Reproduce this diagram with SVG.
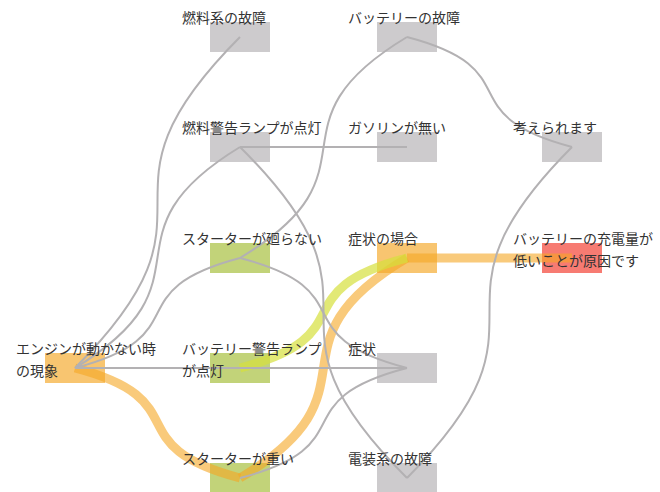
<svg xmlns="http://www.w3.org/2000/svg" width="660" height="492" viewBox="0 0 660 492">
<style>
.bg{fill:#ffffff}
.gray{fill:#cdcbcd}
.orange{fill:#f5a623;fill-opacity:0.65}
.green{fill:#9ab520;fill-opacity:0.6}
.red{fill:#f44336;fill-opacity:0.7}
.e{fill:none;stroke:#b3b1b3;stroke-width:2}
.hl-o{fill:none;stroke:#f5a623;stroke-opacity:0.6;stroke-width:9}
.hl-y{fill:none;stroke:#d6df3c;stroke-opacity:0.7;stroke-width:9}
text{font-family:"Noto Sans CJK JP","Noto Sans",sans-serif;font-size:14px;fill:#333333}
</style>
<rect class="bg" x="0" y="0" width="660" height="492"/>
<g id="nodes-shapes">
<rect id="r-engine" class="orange" x="45" y="353" width="60" height="30"/>
<rect id="r-fuelsys" class="gray" x="210" y="22" width="60" height="30"/>
<rect id="r-fuellamp" class="gray" x="210" y="132" width="60" height="30"/>
<rect id="r-starter-no" class="green" x="210" y="243" width="60" height="30"/>
<rect id="r-batlamp" class="green" x="210" y="353" width="60" height="30"/>
<rect id="r-starter-heavy" class="green" x="210" y="463" width="60" height="30"/>
<rect id="r-batfail" class="gray" x="377" y="22" width="60" height="30"/>
<rect id="r-gas" class="gray" x="377" y="132" width="60" height="30"/>
<rect id="r-case" class="orange" x="377" y="243" width="60" height="30"/>
<rect id="r-symptom" class="gray" x="377" y="353" width="60" height="30"/>
<rect id="r-elec" class="gray" x="377" y="463" width="60" height="30"/>
<rect id="r-think" class="gray" x="542" y="132" width="60" height="30"/>
<rect id="r-cause" class="red" x="542" y="243" width="60" height="30"/>
</g>
<g id="connectors">
<path class="hl-o" d="M75 368 C200.4 401,114.6 445,240 478"/>
<path class="hl-o" d="M240 478 C387 390,260 346,407 258"/>
<path class="hl-o" d="M407 258 L572 258"/>
<path class="hl-y" d="M240 368 C367 335,280 291,407 258"/>
<path class="e" d="M75 368 C240 202.5,75 202.5,240 37"/>
<path class="e" d="M75 368 C220 279.6,95 235.4,240 147"/>
<path class="e" d="M75 368 C200.4 335,114.6 291,240 258"/>
<path class="e" d="M75 368 L407 368"/>
<path class="e" d="M240 147 L407 147"/>
<path class="e" d="M240 147 C407 312.5,240 312.5,407 478"/>
<path class="e" d="M240 258 C387 169.6,260 125.4,407 37"/>
<path class="e" d="M240 258 C367 291,280 335,407 368"/>
<path class="e" d="M240 478 C367 445,280 401,407 368"/>
<path class="e" d="M407 37 C532.4 70,446.6 114,572 147"/>
<path class="e" d="M572 147 C407 312.5,572 312.5,407 478"/>
</g>
<g id="node-engine"><text x="16" y="354">エンジンが動かない時</text><text x="16" y="376">の現象</text></g>
<g id="node-fuelsys"><text x="182" y="23">燃料系の故障</text></g>
<g id="node-fuellamp"><text x="182" y="133">燃料警告ランプが点灯</text></g>
<g id="node-starter-no"><text x="182" y="244">スターターが廻らない</text></g>
<g id="node-batlamp"><text x="182" y="354">バッテリー警告ランプ</text><text x="182" y="376">が点灯</text></g>
<g id="node-starter-heavy"><text x="182" y="464">スターターが重い</text></g>
<g id="node-batfail"><text x="348" y="23">バッテリーの故障</text></g>
<g id="node-gas"><text x="348" y="133">ガソリンが無い</text></g>
<g id="node-case"><text x="348" y="244">症状の場合</text></g>
<g id="node-symptom"><text x="348" y="354">症状</text></g>
<g id="node-elec"><text x="348" y="464">電装系の故障</text></g>
<g id="node-think"><text x="513" y="133">考えられます</text></g>
<g id="node-cause"><text x="513" y="244">バッテリーの充電量が</text><text x="513" y="266">低いことが原因です</text></g>
</svg>
